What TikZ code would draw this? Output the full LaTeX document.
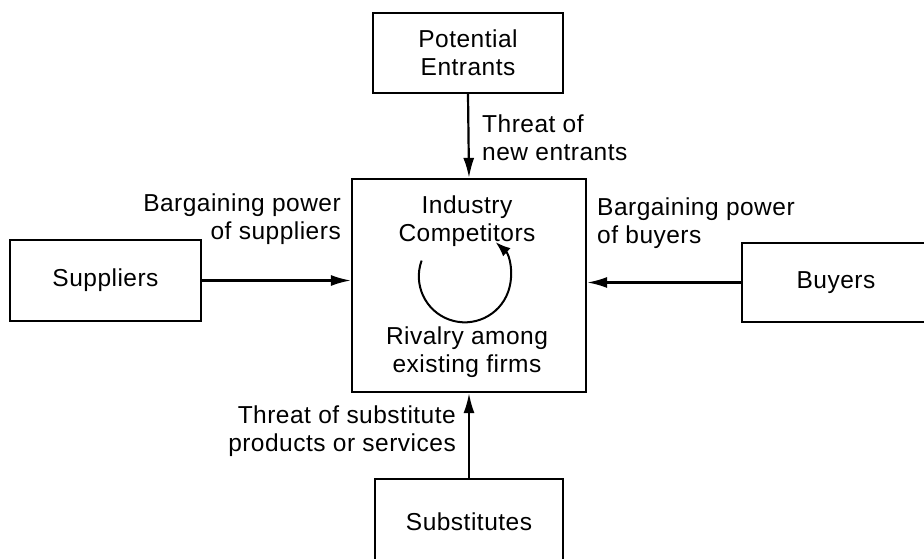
\documentclass[tikz,border=0pt]{standalone}
\usepackage{fontspec}
\setmainfont{Liberation Sans}[LetterSpace=2]
\usetikzlibrary{arrows.meta}
\begin{document}
\begin{tikzpicture}[x=1pt,y=1pt,
  box/.style={draw, line width=2.2pt, rectangle, inner sep=0pt, font=\fontsize{24.5}{28}\selectfont, align=center},
  lbl/.style={inner sep=0pt, font=\fontsize{24.5}{28}\selectfont},
  arr/.style={line width=2.2pt, -{Latex[length=20pt,width=11pt]}}]
\useasboundingbox (0,0) rectangle (924,559);
\node[box, minimum width=190pt, minimum height=80pt] (ent) at (468,506) {Potential\\Entrants};
\node[box, minimum width=234pt, minimum height=213pt] (cen) at (469,273.5) {};
\node[box, minimum width=191pt, minimum height=81pt] (sup) at (105.5,278.5) {Suppliers};
\node[box, minimum width=188pt, minimum height=79pt] (buy) at (836,276.5) {Buyers};
\node[box, minimum width=188pt, minimum height=86pt] (sub) at (469,37) {Substitutes};
\node[lbl, align=center] (ic) at (467,338) {Industry\\Competitors};
\node[lbl, align=center] (rv) at (467,207) {Rivalry among\\existing firms};
\node[lbl, align=left, anchor=west] (tne) at (482,421) {Threat of\\new entrants};
\node[lbl, align=right, anchor=east] (bps) at (341,340) {Bargaining power\\of suppliers};
\node[lbl, align=left, anchor=west] (bpb) at (597,336) {Bargaining power\\of buyers};
\node[lbl, align=right, anchor=east] (tsp) at (456,128) {Threat of substitute\\products or services};
\draw[arr] (ent.south) -- (cen.north);
\draw[arr] (sup.east) -- (sup.east -| cen.west);
\draw[arr] (buy.west) -- (buy.west -| cen.east);
\draw[arr] (sub.north) -- (cen.south);
\coordinate (arcstart) at (421.6,298.4);
\draw[line width=2pt, -{Latex[length=15pt,width=11pt]}] (arcstart) arc[start angle=160, end angle=408, radius=46];
\end{tikzpicture}
\end{document}
